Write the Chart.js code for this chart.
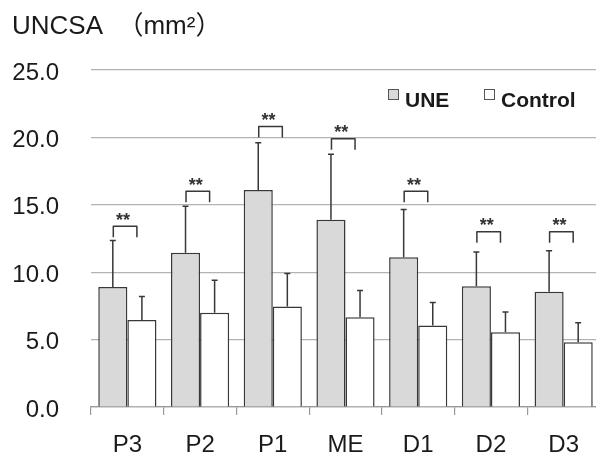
<!DOCTYPE html>
<html lang="en">
<head>
<meta charset="UTF-8">
<title>UNCSA</title>
<script src="https://cdn.jsdelivr.net/npm/chart.js"></script>
<style>
  html, body { margin: 0; padding: 0; background: #fff; overflow: hidden; }
  #wrap { width: 600px; height: 456px; }
</style>
</head>
<body>
<div id="wrap"><canvas id="uncsaChart" width="600" height="456"></canvas></div>
<script>
// --- values ---
const segments = ['P3', 'P2', 'P1', 'ME', 'D1', 'D2', 'D3'];
const uneMean = [8.9, 11.45, 16.1, 13.9, 11.1, 8.95, 8.55];
const uneSD = [3.45, 3.45, 3.5, 4.85, 3.55, 2.55, 3.05];
const controlMean = [6.45, 7.0, 7.45, 6.65, 6.05, 5.55, 4.8];
const controlSD = [1.75, 2.4, 2.45, 2.0, 1.7, 1.5, 1.45];
// top of each significance bracket (same units as the y axis)
const sigLevel = [13.4, 16.0, 20.8, 19.9, 16.0, 13.0, 13.0];
const sigMark = ['**', '**', '**', '**', '**', '**', '**'];

const FONT = "'Liberation Sans', Arial, 'Noto Sans CJK JP', sans-serif";
const INK = '#1a1a1a';
const LINE = '#383838';

// SD whiskers (upward only) and the ** brackets
const errorBars = {
  id: 'errorBars',
  afterDatasetsDraw(chart) {
    const ctx = chart.ctx;
    const y = chart.scales.y;
    ctx.save();
    ctx.strokeStyle = LINE;
    ctx.lineWidth = 1.5;
    chart.data.datasets.forEach((ds, i) => {
      chart.getDatasetMeta(i).data.forEach((bar, j) => {
        const top = y.getPixelForValue(ds.data[j] + ds.sd[j]);
        ctx.beginPath();
        ctx.moveTo(bar.x, bar.y);
        ctx.lineTo(bar.x, top);
        ctx.moveTo(bar.x - 3, top);
        ctx.lineTo(bar.x + 3, top);
        ctx.stroke();
      });
    });

    const une = chart.getDatasetMeta(0).data;
    const ctl = chart.getDatasetMeta(1).data;
    ctx.fillStyle = '#333';
    ctx.font = 'bold 18px ' + FONT;
    ctx.textAlign = 'center';
    ctx.textBaseline = 'alphabetic';
    ctx.lineJoin = 'round';
    sigLevel.forEach((lv, j) => {
      const x1 = une[j].x + 0.5;
      const x2 = ctl[j].x - 5;
      const yt = y.getPixelForValue(lv);
      ctx.beginPath();
      ctx.moveTo(x1, yt + 11);
      ctx.lineTo(x1, yt);
      ctx.lineTo(x2, yt);
      ctx.lineTo(x2, yt + 11);
      ctx.stroke();
      ctx.fillText(sigMark[j], (x1 + x2) / 2 - 2, yt - 0.5);
    });
    ctx.restore();
  }
};

// legend sitting inside the plot, top right
const boxLegend = {
  id: 'boxLegend',
  afterDraw(chart, args, opts) {
    const ctx = chart.ctx;
    ctx.save();
    ctx.font = 'bold 21px ' + FONT;
    ctx.textBaseline = 'alphabetic';
    ctx.textAlign = 'left';
    chart.data.datasets.forEach((ds, i) => {
      const x = opts.xs[i];
      ctx.fillStyle = ds.backgroundColor;
      ctx.fillRect(x, opts.boxTop, 11, 11);
      ctx.strokeStyle = '#555';
      ctx.lineWidth = 1;
      ctx.strokeRect(x + 0.5, opts.boxTop + 0.5, 10, 10);
      ctx.fillStyle = INK;
      ctx.fillText(ds.label, x + 17, opts.baseline);
    });
    ctx.restore();
  }
};

new Chart(document.getElementById('uncsaChart'), {
  type: 'bar',
  data: {
    labels: segments,
    datasets: [
      {
        label: 'UNE',
        data: uneMean,
        sd: uneSD,
        backgroundColor: '#d9d9d9',
        borderColor: LINE,
        borderWidth: 1.5,
        categoryPercentage: 0.8,
        barPercentage: 1.0
      },
      {
        label: 'Control',
        data: controlMean,
        sd: controlSD,
        backgroundColor: '#ffffff',
        borderColor: LINE,
        borderWidth: 1.5,
        categoryPercentage: 0.8,
        barPercentage: 1.0
      }
    ]
  },
  options: {
    responsive: false,
    animation: false,
    layout: { padding: { left: 12, right: 0, top: 0, bottom: 0 } },
    plugins: {
      legend: { display: false },
      tooltip: { enabled: false },
      title: {
        display: true,
        text: 'UNCSA  （mm²）',
        align: 'start',
        color: INK,
        font: { family: FONT, size: 26, weight: 'normal' },
        padding: { top: 11.5, bottom: 27.3 }
      },
      boxLegend: { xs: [388, 484], boxTop: 89, baseline: 106.5 }
    },
    scales: {
      x: {
        grid: {
          display: true,
          drawOnChartArea: false,
          drawTicks: true,
          tickLength: 8,
          color: '#999',
          lineWidth: 1.2,
          offset: true
        },
        border: { display: true, color: '#999', width: 1.2 },
        ticks: { padding: 16, color: INK, font: { family: FONT, size: 24 } },
        afterFit(s) { s.height = 49; }
      },
      y: {
        min: 0,
        max: 25,
        grid: { color: '#b3b3b3', lineWidth: 1.2, drawTicks: false },
        border: { display: false },
        ticks: {
          stepSize: 5,
          padding: 32,
          labelOffset: 3,
          color: INK,
          font: { family: FONT, size: 24 },
          callback: v => v.toFixed(1)
        },
        afterFit(s) { s.width = 79; }
      }
    }
  },
  plugins: [errorBars, boxLegend]
});
</script>
</body>
</html>
